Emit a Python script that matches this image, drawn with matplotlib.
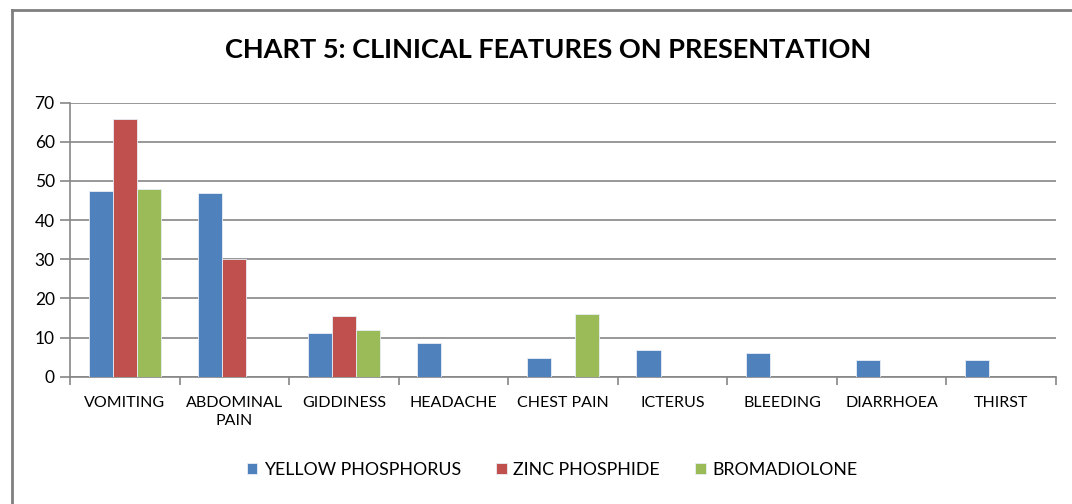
import matplotlib
matplotlib.use("Agg")
import matplotlib.pyplot as plt
import numpy as np
from matplotlib.lines import Line2D

categories = ["VOMITING", "ABDOMINAL\nPAIN", "GIDDINESS", "HEADACHE", "CHEST PAIN",
              "ICTERUS", "BLEEDING", "DIARRHOEA", "THIRST"]
series_names = ["YELLOW PHOSPHORUS", "ZINC PHOSPHIDE", "BROMADIOLONE"]
yellow_phosphorus = [47.5, 46.9, 11.2, 8.5, 4.8, 6.8, 6.1, 4.2, 4.2]
zinc_phosphide = [65.8, 30.0, 15.6, 0, 0, 0, 0, 0, 0]
bromadiolone = [48.0, 0, 11.9, 0, 15.9, 0, 0, 0, 0]
y_ticks = [0, 10, 20, 30, 40, 50, 60, 70]

colors = ["#4F81BD", "#C0504D", "#9BBB59"]
plt.rcParams['font.family'] = ['Lato', 'DejaVu Sans']

W, H = 1072, 504
fig = plt.figure(figsize=(W / 100, H / 100), dpi=100)
fig.patch.set_facecolor("white")

# outer chart frame (left and top edges visible)
fig.lines.append(Line2D([12 / W, 12 / W], [0, 1 - 10 / H], transform=fig.transFigure,
                        color="#7f7f7f", linewidth=2))
fig.lines.append(Line2D([12 / W, 1], [1 - 10 / H, 1 - 10 / H], transform=fig.transFigure,
                        color="#7f7f7f", linewidth=2))

left, right, top, bottom = 70, 1056, 102.7, 376.7
ax = fig.add_axes([left / W, 1 - bottom / H, (right - left) / W, (bottom - top) / H])

x = np.arange(len(categories))
bw = 0.22
for i, (vals, name) in enumerate(zip([yellow_phosphorus, zinc_phosphide, bromadiolone], series_names)):
    ax.bar(x + (i - 1) * bw, vals, width=bw, color=colors[i], label=name, zorder=3,
           edgecolor="#e8eef6", linewidth=0.6)

ax.set_xlim(-0.5, len(categories) - 0.5)
ax.set_ylim(0, 70)
ax.set_yticks(y_ticks)
ax.set_yticklabels([str(t) for t in y_ticks], fontsize=12.5)
ax.yaxis.grid(True, color="#868686", linewidth=1.2, zorder=0)
ax.set_axisbelow(True)
for s in ["top", "right"]:
    ax.spines[s].set_visible(False)
ax.spines["left"].set_color("#868686")
ax.spines["bottom"].set_color("#868686")
ax.spines["left"].set_linewidth(1.2)
ax.spines["bottom"].set_linewidth(1.2)
ax.tick_params(axis="y", length=7, color="#868686", width=1.2, pad=4)

ax.set_xticks(np.arange(len(categories) + 1) - 0.5, minor=False)
ax.set_xticklabels([])
ax.tick_params(axis="x", length=6, color="#868686", width=1.2, direction="out")
ax.set_xticks(x, minor=True)
ax.set_xticklabels(categories, minor=True, fontsize=11.5)
ax.tick_params(axis="x", which="minor", length=0, pad=14)
for lab in ax.get_xticklabels(minor=True):
    lab.set_linespacing(1.35)

fig.text(548 / W, 1 - 50 / H, "CHART 5: CLINICAL FEATURES ON PRESENTATION",
         ha="center", va="center", fontsize=19.5, fontweight="bold")

leg = fig.legend(loc="center", bbox_to_anchor=(552 / W, 1 - 470 / H), ncol=3, frameon=False,
                 fontsize=12.8, handlelength=0.6, handleheight=0.6, handletextpad=0.35,
                 columnspacing=2.0)

fig.savefig("out.png", dpi=100)
